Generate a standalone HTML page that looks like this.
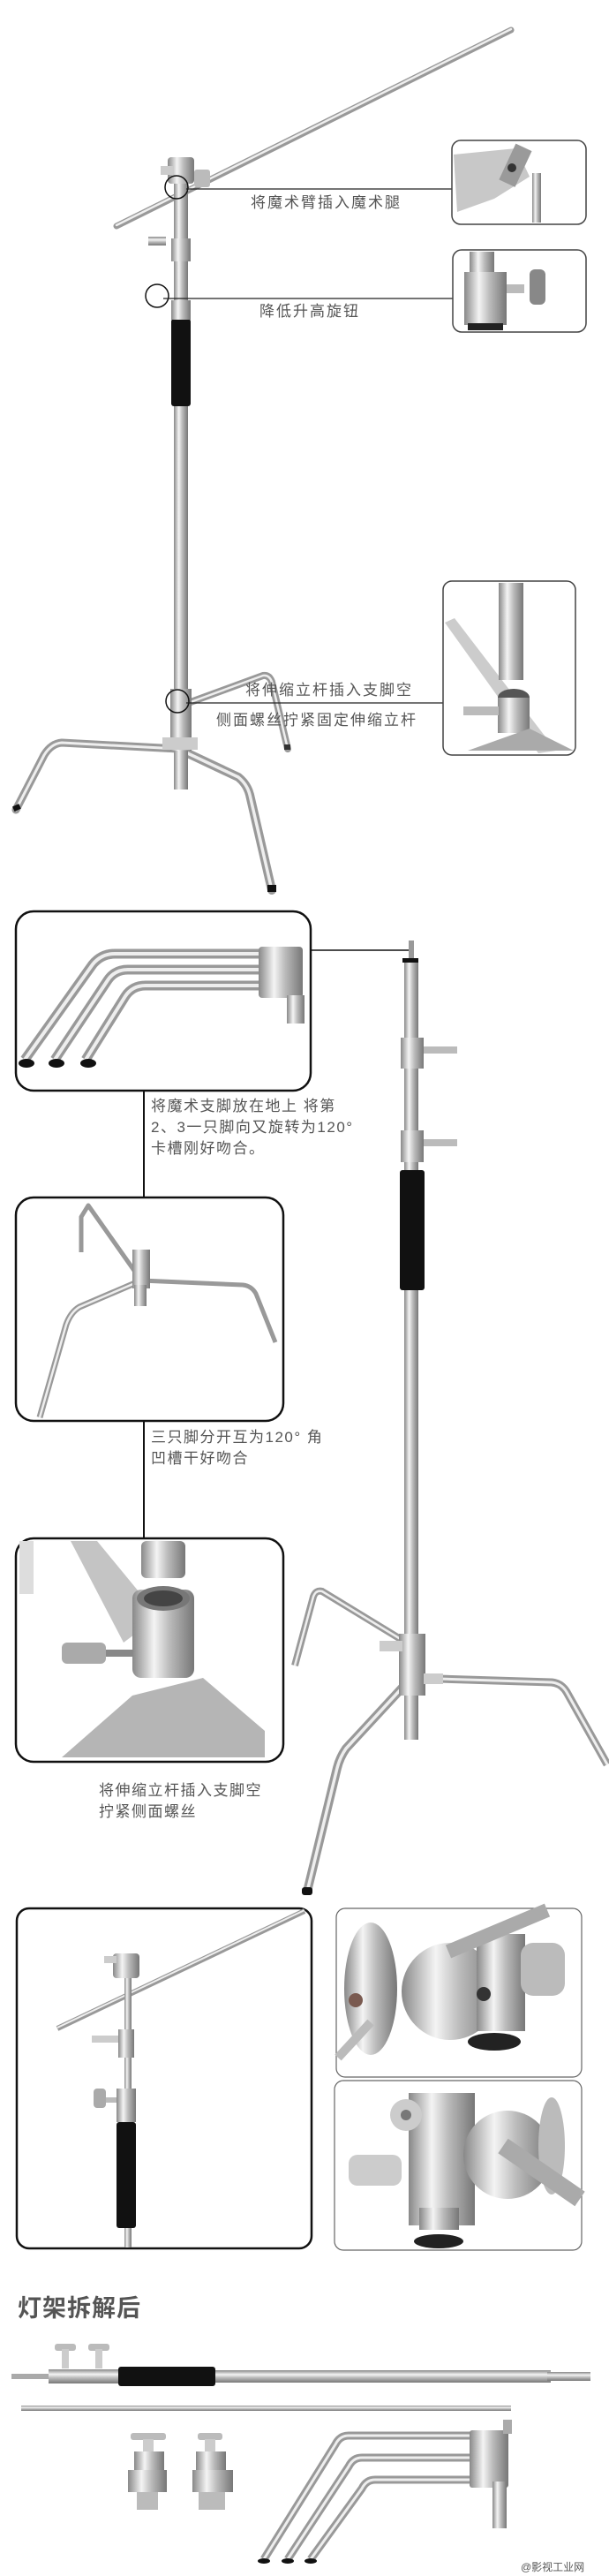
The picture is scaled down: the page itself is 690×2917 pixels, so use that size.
<!DOCTYPE html>
<html><head><meta charset="utf-8"><style>
html,body{margin:0;padding:0;background:#fff;}
svg{display:block;}
text{font-family:"Liberation Sans","Noto Sans CJK SC",sans-serif;fill:#555;}
</style></head><body>
<svg width="690" height="2917" viewBox="0 0 690 2917" xmlns="http://www.w3.org/2000/svg">
<defs>
<linearGradient id="mv" x1="0" y1="0" x2="1" y2="0">
<stop offset="0" stop-color="#888"/><stop offset=".35" stop-color="#f4f4f4"/><stop offset=".6" stop-color="#bbb"/><stop offset="1" stop-color="#777"/>
</linearGradient>
<linearGradient id="mh" x1="0" y1="0" x2="0" y2="1">
<stop offset="0" stop-color="#888"/><stop offset=".35" stop-color="#f4f4f4"/><stop offset=".6" stop-color="#bbb"/><stop offset="1" stop-color="#777"/>
</linearGradient>
</defs>
<rect width="690" height="2917" fill="#fff"/>

<!-- ===== SECTION 1 ===== -->
<g fill="none" stroke-linecap="round" stroke-linejoin="round">
 <!-- boom arm -->
 <line x1="132" y1="256" x2="579" y2="34" stroke="#999" stroke-width="7"/>
 <line x1="132" y1="255" x2="579" y2="33" stroke="#eee" stroke-width="2.5"/>
 <!-- legs -->
 <path d="M202 848 L70 841 Q58 842 50 855 L18 917" stroke="#999" stroke-width="9"/>
 <path d="M202 848 L70 841 Q58 842 50 855 L18 917" stroke="#eee" stroke-width="3"/>
 <path d="M202 848 L270 880 Q280 888 283 900 L308 1008" stroke="#999" stroke-width="10"/>
 <path d="M202 848 L270 880 Q280 888 283 900 L308 1008" stroke="#eee" stroke-width="3.5"/>
 <path d="M216 795 L298 765 Q305 764 308 772 L326 848" stroke="#999" stroke-width="8"/>
 <path d="M216 795 L298 765 Q305 764 308 772 L326 848" stroke="#eee" stroke-width="2.5"/>
</g>
<rect x="15" y="912" width="8" height="6" fill="#111" transform="rotate(-25 18 915)"/>
<rect x="303" y="1002" width="10" height="8" fill="#111"/>
<rect x="322" y="843" width="7" height="6" fill="#333"/>
<!-- pole -->
<rect x="197" y="200" width="16" height="694" fill="url(#mv)"/>
<rect x="194" y="361" width="22" height="99" rx="3" fill="#111"/>
<rect x="194" y="270" width="22" height="26" fill="url(#mv)"/>
<rect x="168" y="268" width="20" height="10" fill="url(#mh)"/>
<rect x="194" y="340" width="22" height="22" fill="url(#mv)"/>
<rect x="193" y="780" width="24" height="70" fill="url(#mv)"/>
<rect x="184" y="835" width="40" height="14" fill="#ccc"/>
<!-- head -->
<rect x="190" y="178" width="30" height="30" rx="4" fill="url(#mv)"/>
<rect x="182" y="188" width="14" height="10" fill="#ccc"/>
<rect x="220" y="192" width="18" height="20" rx="3" fill="#bbb"/>
<!-- circles -->
<circle cx="200" cy="212" r="13" fill="none" stroke="#111" stroke-width="1.5"/>
<circle cx="178" cy="335" r="13" fill="none" stroke="#111" stroke-width="1.5"/>
<circle cx="201" cy="794" r="13" fill="none" stroke="#111" stroke-width="1.5"/>
<!-- connector lines -->
<line x1="211" y1="214" x2="512" y2="214" stroke="#222" stroke-width="1.2"/>
<line x1="185" y1="338" x2="513" y2="338" stroke="#222" stroke-width="1.2"/>
<line x1="211" y1="796" x2="502" y2="796" stroke="#222" stroke-width="1.2"/>
<text x="284" y="235" font-size="17" letter-spacing="2">将魔术臂插入魔术腿</text>
<text x="294" y="358" font-size="17" letter-spacing="2">降低升高旋钮</text>
<text x="278" y="787" font-size="17" letter-spacing="2">将伸缩立杆插入支脚空</text>
<text x="245" y="821" font-size="17" letter-spacing="2">侧面螺丝拧紧固定伸缩立杆</text>
<!-- inset 1 -->
<g>
 <rect x="512" y="159" width="152" height="95" rx="10" fill="#fff" stroke="#444" stroke-width="1.5"/>
 <path d="M514 175 L585 168 L600 200 L560 225 L518 240 Z" fill="#c8c8c8"/>
 <rect x="575" y="165" width="20" height="45" fill="#9a9a9a" transform="rotate(25 585 185)"/>
 <circle cx="580" cy="190" r="5" fill="#333"/>
 <rect x="603" y="196" width="10" height="56" fill="url(#mv)"/>
</g>
<!-- inset 2 -->
<g>
 <rect x="513" y="283" width="151" height="93" rx="10" fill="#fff" stroke="#444" stroke-width="1.5"/>
 <rect x="532" y="285" width="28" height="30" fill="url(#mv)"/>
 <rect x="526" y="308" width="48" height="60" fill="url(#mv)"/>
 <rect x="574" y="322" width="20" height="10" fill="#bbb"/>
 <rect x="600" y="305" width="18" height="40" rx="6" fill="#888"/>
 <rect x="530" y="366" width="40" height="8" fill="#222"/>
</g>
<!-- inset 3 -->
<g>
 <rect x="502" y="658" width="150" height="197" rx="10" fill="#fff" stroke="#444" stroke-width="1.5"/>
 <path d="M504 705 L515 700 L630 850 L610 853 Z" fill="#ccc"/>
 <rect x="565" y="660" width="28" height="110" fill="url(#mv)"/>
 <ellipse cx="582" cy="790" rx="18" ry="10" fill="#555"/>
 <rect x="564" y="790" width="36" height="40" fill="url(#mv)"/>
 <rect x="525" y="800" width="40" height="10" fill="#bbb"/>
 <path d="M530 850 L600 825 L650 850 Z" fill="#aaa"/>
</g>

<!-- ===== SECTION 2 ===== -->
<!-- inset A -->
<rect x="18" y="1032" width="334" height="203" rx="20" fill="#fff" stroke="#111" stroke-width="2.5"/>
<g fill="none" stroke-linejoin="round">
 <path d="M300 1080 L130 1080 Q115 1080 105 1092 L28 1200" stroke="#999" stroke-width="11"/>
 <path d="M300 1080 L130 1080 Q115 1080 105 1092 L28 1200" stroke="#eee" stroke-width="4"/>
 <path d="M310 1098 L145 1098 Q130 1098 122 1110 L62 1200" stroke="#999" stroke-width="11"/>
 <path d="M310 1098 L145 1098 Q130 1098 122 1110 L62 1200" stroke="#eee" stroke-width="4"/>
 <path d="M320 1116 L165 1116 Q150 1116 142 1128 L97 1200" stroke="#999" stroke-width="11"/>
 <path d="M320 1116 L165 1116 Q150 1116 142 1128 L97 1200" stroke="#eee" stroke-width="4"/>
</g>
<rect x="293" y="1072" width="50" height="58" rx="4" fill="url(#mv)"/>
<rect x="325" y="1127" width="20" height="32" fill="url(#mv)"/>
<ellipse cx="30" cy="1204" rx="9" ry="5" fill="#111"/>
<ellipse cx="64" cy="1204" rx="9" ry="5" fill="#111"/>
<ellipse cx="100" cy="1204" rx="9" ry="5" fill="#111"/>
<!-- connectors -->
<polyline points="352,1076 466,1076 466,1070" fill="none" stroke="#111" stroke-width="1.5"/>
<line x1="163" y1="1235" x2="163" y2="1356" stroke="#111" stroke-width="2"/>
<line x1="163" y1="1609" x2="163" y2="1742" stroke="#111" stroke-width="2"/>
<text x="171" y="1258" font-size="17" letter-spacing="1.5" fill="#666">将魔术支脚放在地上 将第</text>
<text x="171" y="1282" font-size="17" letter-spacing="1.5">2、3一只脚向又旋转为120°</text>
<text x="171" y="1306" font-size="17" letter-spacing="1.5">卡槽刚好吻合。</text>
<!-- inset B -->
<rect x="18" y="1356" width="303" height="253" rx="20" fill="#fff" stroke="#111" stroke-width="2.5"/>
<g fill="none" stroke-linejoin="round">
 <path d="M160 1450 L100 1365 L92 1378 L92 1418" stroke="#999" stroke-width="5"/>
 <path d="M160 1450 L275 1455 Q285 1456 290 1465 L312 1520" stroke="#999" stroke-width="5"/>
 <path d="M160 1450 L90 1480 Q80 1486 75 1500 L45 1605" stroke="#999" stroke-width="7"/>
 <path d="M160 1450 L90 1480 Q80 1486 75 1500 L45 1605" stroke="#eee" stroke-width="2.5"/>
</g>
<rect x="150" y="1415" width="20" height="44" fill="url(#mv)"/>
<rect x="152" y="1455" width="14" height="24" fill="url(#mv)"/>
<text x="171" y="1633" font-size="17" letter-spacing="1.5">三只脚分开互为120° 角</text>
<text x="171" y="1657" font-size="17" letter-spacing="1.5">凹槽干好吻合</text>
<!-- inset C -->
<rect x="18" y="1742" width="303" height="253" rx="20" fill="#fff" stroke="#111" stroke-width="2.5"/>
<rect x="22" y="1745" width="16" height="60" fill="#ddd"/>
<path d="M80 1745 L110 1745 L180 1830 L140 1860 Z" fill="#c4c4c4"/>
<rect x="160" y="1745" width="50" height="42" rx="6" fill="url(#mv)"/>
<rect x="150" y="1800" width="70" height="100" rx="10" fill="url(#mv)"/>
<ellipse cx="185" cy="1810" rx="30" ry="14" fill="#777"/>
<ellipse cx="185" cy="1810" rx="22" ry="9" fill="#444"/>
<rect x="70" y="1860" width="50" height="24" rx="6" fill="#aaa"/>
<rect x="120" y="1868" width="30" height="8" fill="#888"/>
<path d="M70 1990 L150 1920 L230 1900 L300 1960 L300 1990 Z" fill="#b5b5b5"/>
<text x="112" y="2033" font-size="17" letter-spacing="1.5">将伸缩立杆插入支脚空</text>
<text x="112" y="2057" font-size="17" letter-spacing="1.5">拧紧侧面螺丝</text>
<!-- big stand 2 -->
<g fill="none" stroke-linejoin="round">
 <path d="M466 1900 L625 1905 Q636 1906 642 1916 L688 1998" stroke="#999" stroke-width="9"/>
 <path d="M466 1900 L625 1905 Q636 1906 642 1916 L688 1998" stroke="#eee" stroke-width="3"/>
 <path d="M466 1900 L392 1980 Q385 1990 382 2002 L348 2142" stroke="#999" stroke-width="10"/>
 <path d="M466 1900 L392 1980 Q385 1990 382 2002 L348 2142" stroke="#eee" stroke-width="3.5"/>
 <path d="M457 1858 L365 1802 Q358 1800 355 1808 L334 1886" stroke="#999" stroke-width="8"/>
 <path d="M457 1858 L365 1802 Q358 1800 355 1808 L334 1886" stroke="#eee" stroke-width="2.5"/>
</g>
<rect x="342" y="2137" width="12" height="9" rx="3" fill="#111"/>
<rect x="463" y="1065" width="6" height="20" fill="#999"/>
<rect x="456" y="1085" width="18" height="5" fill="#111"/>
<rect x="458" y="1090" width="16" height="880" fill="url(#mv)"/>
<rect x="453" y="1325" width="28" height="136" rx="3" fill="#111"/>
<rect x="454" y="1175" width="26" height="35" fill="url(#mv)"/>
<rect x="480" y="1185" width="38" height="8" fill="#bbb"/>
<rect x="454" y="1280" width="26" height="36" fill="url(#mv)"/>
<rect x="480" y="1290" width="38" height="8" fill="#bbb"/>
<rect x="452" y="1850" width="30" height="70" fill="url(#mv)"/>
<rect x="430" y="1858" width="26" height="12" fill="#ccc"/>
<rect x="480" y="1895" width="22" height="12" fill="#ccc"/>

<!-- ===== SECTION 3 ===== -->
<!-- inset D -->
<rect x="19" y="2161" width="334" height="385" rx="14" fill="#fff" stroke="#111" stroke-width="2.5"/>
<line x1="65" y1="2297" x2="345" y2="2164" stroke="#999" stroke-width="6"/>
<line x1="65" y1="2296" x2="345" y2="2163" stroke="#eee" stroke-width="2"/>
<rect x="141" y="2215" width="8" height="330" fill="url(#mv)"/>
<rect x="132" y="2403" width="22" height="120" rx="3" fill="#111"/>
<rect x="128" y="2212" width="30" height="28" rx="4" fill="url(#mv)"/>
<rect x="118" y="2215" width="14" height="8" fill="#ccc"/>
<rect x="134" y="2298" width="18" height="32" fill="url(#mv)"/>
<rect x="104" y="2305" width="30" height="8" fill="#ccc"/>
<rect x="132" y="2365" width="22" height="38" fill="url(#mv)"/>
<rect x="106" y="2365" width="14" height="22" rx="4" fill="#aaa"/>
<rect x="120" y="2375" width="12" height="6" fill="#bbb"/>
<!-- inset E -->
<rect x="381" y="2161" width="278" height="191" rx="10" fill="#fff" stroke="#666" stroke-width="1.2"/>
<ellipse cx="420" cy="2252" rx="30" ry="75" fill="url(#mv)"/>
<circle cx="403" cy="2265" r="8" fill="#7a5a50"/>
<ellipse cx="510" cy="2255" rx="55" ry="55" fill="url(#mv)"/>
<rect x="540" y="2190" width="55" height="110" fill="url(#mv)"/>
<rect x="590" y="2200" width="50" height="60" rx="14" fill="#bbb"/>
<line x1="508" y1="2210" x2="620" y2="2163" stroke="#aaa" stroke-width="16"/>
<line x1="383" y1="2330" x2="420" y2="2290" stroke="#bbb" stroke-width="10"/>
<ellipse cx="560" cy="2312" rx="30" ry="10" fill="#222"/>
<circle cx="548" cy="2258" r="8" fill="#333"/>
<!-- inset F -->
<rect x="379" y="2356" width="280" height="192" rx="10" fill="#fff" stroke="#666" stroke-width="1.2"/>
<rect x="463" y="2370" width="75" height="150" fill="url(#mv)"/>
<circle cx="460" cy="2395" r="18" fill="#ccc"/>
<circle cx="460" cy="2395" r="6" fill="#777"/>
<rect x="395" y="2440" width="60" height="35" rx="10" fill="#ccc"/>
<ellipse cx="575" cy="2440" rx="50" ry="50" fill="url(#mv)"/>
<ellipse cx="625" cy="2430" rx="15" ry="55" fill="#bbb"/>
<line x1="570" y1="2430" x2="657" y2="2490" stroke="#aaa" stroke-width="20"/>
<rect x="475" y="2500" width="45" height="25" fill="url(#mv)"/>
<ellipse cx="497" cy="2538" rx="28" ry="8" fill="#222"/>
<!-- title -->
<text x="20" y="2623" font-size="27" font-weight="bold" fill="#333" letter-spacing="1">灯架拆解后</text>
<!-- parts -->
<rect x="13" y="2688" width="45" height="6" fill="#aaa"/>
<rect x="55" y="2683" width="80" height="16" fill="url(#mh)"/>
<rect x="134" y="2680" width="110" height="22" rx="3" fill="#111"/>
<rect x="244" y="2684" width="380" height="14" fill="url(#mh)"/>
<rect x="620" y="2686" width="49" height="10" fill="url(#mh)"/>
<rect x="62" y="2654" width="24" height="8" rx="3" fill="#bbb"/>
<rect x="70" y="2660" width="8" height="22" fill="#ccc"/>
<rect x="100" y="2654" width="24" height="8" rx="3" fill="#bbb"/>
<rect x="108" y="2660" width="8" height="22" fill="#ccc"/>
<rect x="24" y="2724" width="555" height="6" fill="url(#mh)"/>
<!-- grip heads -->
<rect x="148" y="2755" width="40" height="8" rx="3" fill="#bbb"/>
<rect x="162" y="2762" width="12" height="14" fill="#ccc"/>
<rect x="152" y="2776" width="34" height="22" fill="url(#mv)"/>
<rect x="145" y="2797" width="44" height="25" fill="url(#mv)"/>
<rect x="155" y="2822" width="24" height="20" fill="#bbb"/>
<rect x="224" y="2755" width="28" height="8" rx="3" fill="#bbb"/>
<rect x="232" y="2762" width="12" height="14" fill="#ccc"/>
<rect x="222" y="2776" width="34" height="22" fill="url(#mv)"/>
<rect x="218" y="2797" width="46" height="25" fill="url(#mv)"/>
<rect x="225" y="2822" width="30" height="20" fill="#bbb"/>
<!-- leg bundle -->
<g fill="none" stroke-linejoin="round">
 <path d="M560 2758 L395 2758 Q385 2758 380 2768 L299 2898" stroke="#999" stroke-width="9"/>
 <path d="M560 2758 L395 2758 Q385 2758 380 2768 L299 2898" stroke="#eee" stroke-width="3"/>
 <path d="M565 2783 L410 2783 Q400 2783 395 2793 L326 2898" stroke="#999" stroke-width="9"/>
 <path d="M565 2783 L410 2783 Q400 2783 395 2793 L326 2898" stroke="#eee" stroke-width="3"/>
 <path d="M570 2808 L425 2808 Q415 2808 410 2818 L352 2898" stroke="#999" stroke-width="9"/>
 <path d="M570 2808 L425 2808 Q415 2808 410 2818 L352 2898" stroke="#eee" stroke-width="3"/>
</g>
<rect x="532" y="2752" width="44" height="65" rx="3" fill="url(#mv)"/>
<rect x="558" y="2810" width="16" height="53" fill="url(#mv)"/>
<rect x="570" y="2740" width="10" height="16" fill="#aaa"/>
<ellipse cx="299" cy="2900" rx="7" ry="3" fill="#111"/>
<ellipse cx="326" cy="2900" rx="7" ry="3" fill="#111"/>
<ellipse cx="352" cy="2900" rx="7" ry="3" fill="#111"/>
<text x="590" y="2911" font-size="12" fill="#333">@影视工业网</text>
</svg>
</body></html>
